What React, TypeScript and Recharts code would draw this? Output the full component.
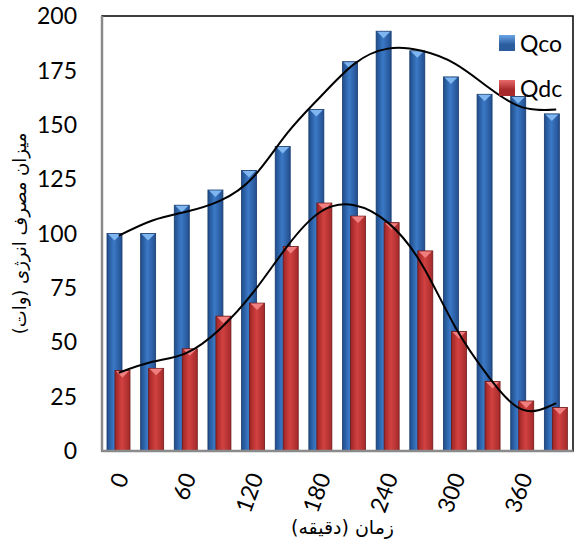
import React from 'react';
import { ComposedChart, Bar, Line, XAxis, YAxis, ReferenceArea } from 'recharts';

// minutes on the x axis
const minutes = ['0', '30', '60', '90', '120', '150', '180', '210', '240', '270', '300', '330', '360', '390'];
const qco = [100, 100, 113, 120, 129, 140, 157, 179, 193, 184, 172, 164, 163, 155];
const qdc = [37, 38, 47, 62, 68, 94, 114, 108, 105, 92, 55, 32, 23, 20];
// trend lines
const qcoTrend = [99, 106, 110, 115, 126, 146, 163, 178, 185, 184, 178, 167, 158, 157];
const qdcTrend = [36, 41, 45, 56, 73, 94, 110, 113, 105, 86, 57, 34, 19, 22];
const yTicks = [0, 25, 50, 75, 100, 125, 150, 175, 200];

const data = minutes.map((m, i) => ({
  m,
  Qco: qco[i],
  Qdc: qdc[i],
  coTrend: qcoTrend[i],
  dcTrend: qdcTrend[i],
}));

const FONT = 'Lato, "Open Sans", sans-serif';
const FA_FONT = '"DejaVu Sans", sans-serif';

const BarShape = (props: any) => {
  const { x, y, width, height, grad, tip, edge } = props;
  if (!height || height <= 0) return null;
  const th = Math.min(7, height);
  return (
    <g>
      <rect x={x} y={y} width={width} height={height} fill={`url(#${grad})`} stroke={edge} strokeWidth={0.8} />
      <polygon points={`${x + 1},${y + 0.5} ${x + width - 1},${y + 0.5} ${x + width / 2},${y + th}`} fill={tip} />
    </g>
  );
};

const XTick = (props: any) => {
  const { x, y, payload } = props;
  return (
    <g transform={`translate(${x + 3},${y + 15})`}>
      <text transform="rotate(-70)" textAnchor="end" dy={8} fontSize={23} fontFamily={FONT} fill="#000">
        {payload.value}
      </text>
    </g>
  );
};

const legendItems = [
  { name: 'Qco', c1: '#2b5c9e', c2: '#6aa5e8' },
  { name: 'Qdc', c1: '#a92a2a', c2: '#e86a6a' },
];

export default function App() {
  return (
    <div style={{ position: 'absolute', left: 0, top: 0, width: 574, height: 540, background: '#fff' }}>
      <ComposedChart
        width={574}
        height={540}
        data={data}
        barGap={-7}
        margin={{ top: 16, right: 1, bottom: 0, left: 0 }}
      >
        <defs>
          <linearGradient id="gBlue" x1="0" y1="0" x2="1" y2="0">
            <stop offset="0%" stopColor="#1f4c8a" />
            <stop offset="45%" stopColor="#3b79c6" />
            <stop offset="100%" stopColor="#234f8f" />
          </linearGradient>
          <linearGradient id="gRed" x1="0" y1="0" x2="1" y2="0">
            <stop offset="0%" stopColor="#9e2525" />
            <stop offset="45%" stopColor="#d24141" />
            <stop offset="100%" stopColor="#a42a2a" />
          </linearGradient>
        </defs>
        <ReferenceArea y1={0} y2={200} fill="none" stroke="#000" strokeWidth={1.5} />
        <XAxis
          dataKey="m"
          interval={1}
          height={89}
          tickLine={false}
          axisLine={{ stroke: '#8a8a8a', strokeWidth: 2.5 }}
          tick={<XTick />}
          label={{
            value: 'زمان (دقیقه)',
            position: 'insideBottom',
            offset: 6,
            dx: 5,
            style: { fontFamily: FA_FONT, fontSize: 19, fill: '#000' },
          }}
        />
        <YAxis
          width={102}
          domain={[0, 200]}
          ticks={yTicks}
          tickLine={false}
          tickSize={0}
          tickMargin={25}
          axisLine={{ stroke: '#8a8a8a', strokeWidth: 2.5 }}
          tick={{ fontSize: 23, fontFamily: FONT, fill: '#000' }}
          label={{
            value: 'میزان مصرف انرژی (وات)',
            angle: -90,
            position: 'insideLeft',
            offset: 20,
            style: { fontFamily: FA_FONT, fontSize: 18, fill: '#000', textAnchor: 'middle' },
          }}
        />
        <Bar
          dataKey="Qco"
          barSize={15}
          isAnimationActive={false}
          shape={(p: any) => <BarShape {...p} grad="gBlue" tip="#7fb6f0" edge="#173a6b" />}
        />
        <Bar
          dataKey="Qdc"
          barSize={15}
          isAnimationActive={false}
          shape={(p: any) => <BarShape {...p} grad="gRed" tip="#f08080" edge="#6e1717" />}
        />
        <Line type="natural" dataKey="coTrend" stroke="#000" strokeWidth={2} dot={false} isAnimationActive={false} legendType="none" />
        <Line type="natural" dataKey="dcTrend" stroke="#000" strokeWidth={2} dot={false} isAnimationActive={false} legendType="none" />
      </ComposedChart>
      <div style={{ position: 'absolute', left: 499, top: 20, fontFamily: FONT, fontSize: 23, color: '#000' }}>
        {legendItems.map((it) => (
          <div key={it.name} style={{ display: 'flex', alignItems: 'center', height: 45 }}>
            <div
              style={{
                width: 16,
                height: 16,
                background: `linear-gradient(180deg, ${it.c2} 0%, ${it.c1} 60%)`,
                marginRight: 5,
              }}
            />
            <span>{it.name}</span>
          </div>
        ))}
      </div>
    </div>
  );
}
